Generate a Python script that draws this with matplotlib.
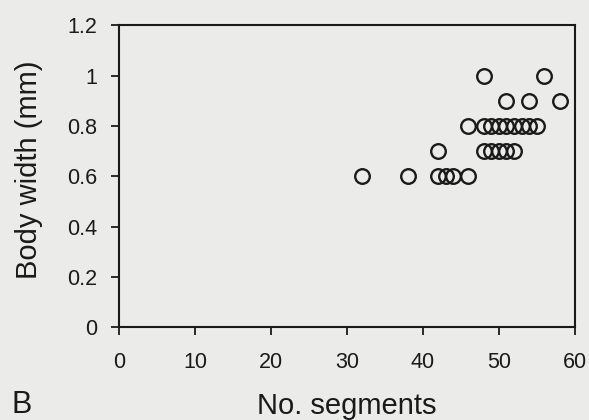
import matplotlib
matplotlib.use("Agg")
import matplotlib.pyplot as plt

plt.rcParams['font.family'] = ['Liberation Sans', 'DejaVu Sans']

# body width vs number of segments
segments = [32, 38, 42, 43, 44, 46,
            42, 48, 49, 50, 51, 52,
            46, 48, 49, 50, 51, 52, 53, 54, 55,
            51, 54, 58,
            48, 56]
width_mm = [0.6, 0.6, 0.6, 0.6, 0.6, 0.6,
            0.7, 0.7, 0.7, 0.7, 0.7, 0.7,
            0.8, 0.8, 0.8, 0.8, 0.8, 0.8, 0.8, 0.8, 0.8,
            0.9, 0.9, 0.9,
            1.0, 1.0]
xticks = [0, 10, 20, 30, 40, 50, 60]
yticks = [0, 0.2, 0.4, 0.6, 0.8, 1.0, 1.2]
ytick_labels = ['0', '0.2', '0.4', '0.6', '0.8', '1', '1.2']

ink = '#1a1a1a'
paper = '#ebebea'

fig = plt.figure(figsize=(5.89, 4.2), dpi=100, facecolor=paper)
ax = fig.add_axes([0.202, 0.221, 0.774, 0.719])
ax.set_facecolor(paper)

ax.plot(segments, width_mm, 'o', mfc='none', mec=ink, ms=10.5, mew=1.7,
        clip_on=False)

ax.set_xlim(0, 60)
ax.set_ylim(0, 1.2)
ax.set_xticks(xticks)
ax.set_yticks(yticks)
ax.set_yticklabels(ytick_labels)
ax.tick_params(direction='out', length=6, width=1.3, colors=ink,
               labelsize=15.5)
ax.tick_params(axis='x', pad=12)
ax.tick_params(axis='y', pad=10)
for s in ax.spines.values():
    s.set_linewidth(1.5)
    s.set_color(ink)

ax.set_xlabel('No. segments', fontsize=21, color=ink, va='top')
ax.xaxis.set_label_coords(0.5, -0.215)
ax.set_ylabel('Body width (mm)', fontsize=21, color=ink, va='center')
ax.yaxis.set_label_coords(-0.197, 0.52)

fig.text(12 / 589, 1 - 413 / 420, 'B', fontsize=22, color=ink,
         va='baseline', ha='left')

fig.savefig('out.png', dpi=100, facecolor=paper)
